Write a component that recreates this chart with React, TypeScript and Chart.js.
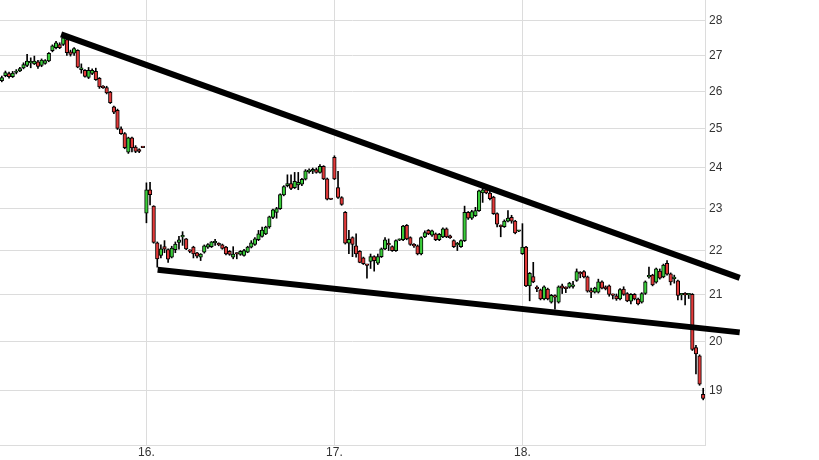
import React, { useEffect, useRef } from 'react';
import { Chart, registerables } from 'chart.js';

Chart.register(...registerables);

// Candle values (one candle per intraday slot, oldest first)
const OPEN = [
  26.29, 26.43, 26.49, 26.40, 26.52, 26.56, 26.65, 26.72, 26.79, 26.76,
  26.82, 26.72, 26.77, 26.84, 27.13, 27.22, 27.31, 27.31, 27.45, 27.10,
  27.06, 27.14, 26.60, 26.58, 26.38, 26.49, 26.55, 26.36, 26.14, 26.10,
  25.98, 25.58, 25.49, 25.00, 24.87, 24.39, 24.76, 24.52, 24.46, 24.53,
  // 16.
  22.88, 23.45, 23.05, 22.18, 21.89, 22.09, 22.02, 21.85, 22.02, 22.19,
  22.32, 22.27, 22.00, 22.08, 21.95, 21.85, 21.96, 22.08, 22.09, 22.18,
  22.15, 22.13, 22.08, 21.98, 21.85, 21.94, 21.91, 21.89, 21.96, 22.08,
  22.14, 22.25, 22.33, 22.39, 22.55, 22.78, 22.90, 22.99, 23.32, 23.55,
  23.60, 23.50, 23.57, 23.59, 23.71, 23.90, 23.91, 23.95, 23.88, 24.03,
  23.72, 23.23,
  // 17.
  24.26, 23.50, 23.26, 22.90, 22.17, 22.30, 22.11, 21.98, 21.83, 21.67,
  21.75, 21.86, 21.71, 21.86, 22.04, 22.15, 22.09, 22.00, 22.24, 22.25,
  22.59, 22.30, 22.12, 22.11, 21.92, 22.32, 22.47, 22.36, 22.39, 22.25,
  22.32, 22.51, 22.34, 22.23, 22.13, 22.09, 22.23, 22.90, 22.76, 22.82,
  22.94, 23.37, 23.45, 23.37, 23.27, 22.87, 22.58, 22.56, 22.69, 22.78,
  22.69, 22.45,
  // 18.
  21.93, 22.08, 21.20, 21.41, 21.16, 21.11, 20.91, 21.13, 20.84, 20.96,
  20.84, 21.20, 21.16, 21.17, 21.19, 21.32, 21.48, 21.52, 21.40, 21.07,
  21.06, 21.06, 21.29, 21.18, 21.20, 21.00, 20.98, 20.91, 21.13, 21.03,
  20.86, 21.01, 20.91, 20.84, 21.03, 21.40, 21.44, 21.28, 21.53, 21.40,
  21.71, 21.47, 21.36, 21.31, 21.00, 21.02, 21.00, 21.01, 19.87, 19.70,
  18.92,
];
const HIGH = [
  26.42, 26.56, 26.53, 26.55, 26.60, 26.66, 26.79, 27.03, 26.93, 26.98,
  26.86, 26.90, 26.88, 27.08, 27.30, 27.40, 27.36, 27.62, 27.55, 27.15,
  27.22, 27.16, 26.76, 26.60, 26.66, 26.62, 26.64, 26.38, 26.16, 26.14,
  26.00, 25.60, 25.52, 25.05, 24.90, 24.78, 24.78, 24.56, 24.48, 24.53,
  // 16.
  23.62, 23.63, 23.06, 22.20, 22.13, 22.23, 22.04, 22.10, 22.20, 22.33,
  22.44, 22.28, 22.02, 22.10, 21.96, 21.93, 22.13, 22.16, 22.21, 22.26,
  22.18, 22.15, 22.10, 22.00, 22.09, 21.95, 22.00, 22.03, 22.10, 22.23,
  22.30, 22.47, 22.55, 22.57, 22.81, 22.98, 23.02, 23.35, 23.55, 23.82,
  23.82, 23.88, 23.88, 23.73, 23.95, 23.97, 23.99, 23.99, 24.08, 24.05,
  23.74, 23.23,
  // 17.
  24.30, 23.91, 23.28, 22.92, 22.47, 22.32, 22.39, 22.00, 21.85, 21.68,
  21.92, 21.88, 21.92, 22.06, 22.30, 22.27, 22.11, 22.25, 22.27, 22.59,
  22.61, 22.32, 22.16, 22.13, 22.32, 22.46, 22.49, 22.48, 22.41, 22.40,
  22.53, 22.53, 22.36, 22.25, 22.19, 22.25, 23.05, 22.92, 22.95, 23.02,
  23.44, 23.52, 23.52, 23.45, 23.29, 22.89, 22.60, 22.72, 22.94, 22.83,
  22.71, 22.47,
  // 18.
  22.63, 22.10, 21.50, 21.73, 21.20, 21.13, 21.20, 21.15, 21.01, 21.00,
  21.20, 21.24, 21.18, 21.28, 21.30, 21.58, 21.52, 21.54, 21.42, 21.15,
  21.17, 21.35, 21.31, 21.20, 21.22, 21.02, 21.02, 21.14, 21.18, 21.05,
  21.03, 21.03, 20.93, 21.05, 21.31, 21.62, 21.46, 21.60, 21.58, 21.69,
  21.77, 21.49, 21.44, 21.33, 21.03, 21.05, 21.03, 21.03, 19.92, 19.72,
  19.04,
];
const LOW = [
  26.26, 26.40, 26.36, 26.38, 26.48, 26.54, 26.62, 26.68, 26.65, 26.74,
  26.63, 26.68, 26.75, 26.82, 27.10, 27.18, 27.19, 27.28, 27.00, 26.98,
  27.00, 26.65, 26.50, 26.39, 26.35, 26.46, 26.30, 26.08, 26.08, 25.93,
  25.67, 25.40, 24.98, 24.85, 24.48, 24.36, 24.40, 24.38, 24.38, 24.51,
  // 16.
  22.65, 23.08, 22.17, 21.62, 21.83, 21.95, 21.73, 21.83, 21.95, 22.03,
  22.12, 22.02, 21.95, 21.83, 21.83, 21.77, 21.94, 22.05, 22.07, 22.12,
  22.11, 22.03, 21.90, 21.89, 21.81, 21.81, 21.89, 21.87, 21.95, 22.06,
  22.12, 22.23, 22.31, 22.37, 22.52, 22.75, 22.76, 22.97, 23.30, 23.52,
  23.45, 23.48, 23.45, 23.55, 23.69, 23.86, 23.85, 23.86, 23.86, 23.70,
  23.20, 23.21,
  // 17.
  23.70, 23.24, 23.07, 22.15, 21.93, 21.86, 21.85, 21.72, 21.68, 21.37,
  21.59, 21.53, 21.68, 21.84, 22.02, 22.00, 21.98, 21.98, 22.23, 22.23,
  22.25, 22.12, 22.07, 21.90, 21.90, 22.30, 22.37, 22.33, 22.23, 22.23,
  22.30, 22.30, 22.28, 22.07, 22.00, 22.07, 22.21, 22.73, 22.73, 22.80,
  22.92, 23.14, 23.35, 23.20, 22.85, 22.55, 22.32, 22.54, 22.67, 22.64,
  22.39, 22.44,
  // 18.
  21.91, 21.18, 20.87, 21.27, 21.07, 20.89, 20.89, 20.89, 20.82, 20.69,
  20.82, 21.03, 21.05, 21.15, 21.15, 21.30, 21.38, 21.38, 21.06, 20.94,
  21.04, 21.04, 21.13, 21.11, 20.97, 20.91, 20.88, 20.89, 20.99, 20.85,
  20.80, 20.89, 20.78, 20.82, 21.01, 21.37, 21.20, 21.26, 21.35, 21.38,
  21.44, 21.22, 21.26, 20.89, 20.89, 20.78, 20.92, 19.81, 19.33, 19.10,
  18.81,
];
const CLOSE = [
  26.38, 26.52, 26.40, 26.50, 26.54, 26.63, 26.74, 26.84, 26.81, 26.84,
  26.69, 26.87, 26.85, 27.06, 27.27, 27.36, 27.22, 27.50, 27.08, 27.03,
  27.19, 26.67, 26.65, 26.41, 26.58, 26.58, 26.32, 26.12, 26.10, 25.96,
  25.69, 25.44, 25.01, 24.87, 24.51, 24.76, 24.50, 24.41, 24.41, 24.51,
  // 16.
  23.45, 23.33, 22.19, 21.81, 22.04, 22.03, 21.80, 22.06, 22.15, 22.25,
  22.34, 22.04, 21.98, 21.92, 21.87, 21.92, 22.11, 22.14, 22.20, 22.20,
  22.13, 22.05, 21.92, 21.91, 21.92, 21.92, 21.98, 22.00, 22.08, 22.18,
  22.27, 22.39, 22.48, 22.55, 22.79, 22.96, 22.99, 23.33, 23.53, 23.60,
  23.48, 23.66, 23.63, 23.71, 23.92, 23.92, 23.96, 23.88, 24.03, 23.72,
  23.22, 23.21,
  // 17.
  23.72, 23.26, 23.09, 22.17, 22.26, 22.14, 21.92, 21.73, 21.70, 21.66,
  21.86, 21.77, 21.86, 22.04, 22.25, 22.13, 22.00, 22.23, 22.26, 22.57,
  22.27, 22.14, 22.11, 21.92, 22.30, 22.42, 22.39, 22.46, 22.25, 22.38,
  22.51, 22.32, 22.30, 22.09, 22.15, 22.23, 22.90, 22.76, 22.92, 22.94,
  23.42, 23.45, 23.37, 23.23, 22.87, 22.62, 22.56, 22.69, 22.76, 22.69,
  22.41, 22.46,
  // 18.
  22.08, 21.20, 21.48, 21.29, 21.14, 20.91, 21.18, 20.91, 20.99, 20.95,
  21.18, 21.15, 21.14, 21.26, 21.21, 21.52, 21.47, 21.40, 21.08, 21.06,
  21.15, 21.29, 21.15, 21.13, 21.01, 20.99, 20.91, 21.12, 21.01, 20.87,
  21.01, 20.91, 20.80, 21.03, 21.29, 21.42, 21.22, 21.58, 21.37, 21.67,
  21.46, 21.29, 21.38, 20.99, 21.01, 21.00, 21.01, 19.83, 19.74, 19.12,
  18.84,
];

// X axis: candle slot of the first candle of each day, and its label
const DAY_TICK_INDEX = [40, 92, 144];
const DAY_LABELS = ['16.', '17.', '18.'];
const X_MIN = -0.5;
const X_MAX = 194.5;

// Y axis (logarithmic)
const PRICE_TICKS = [19, 20, 21, 22, 23, 24, 25, 26, 27, 28];
const Y_MIN = 17.94;
const Y_MAX = 28.615;

// Hand-drawn trend lines (slot, price)
const UPPER_TREND_X = [16.4, 204.1];
const UPPER_TREND_Y = [27.6, 21.38];
const LOWER_TREND_X = [43.1, 204.1];
const LOWER_TREND_Y = [21.56, 20.19];

const UP_COLOR = '#3acd3a';
const DOWN_COLOR = '#e23a3a';
const GRID_COLOR = '#dcdcdc';
const TEXT_COLOR = '#333333';
const FONT = { family: '"Liberation Sans", Arial, sans-serif', size: 12 };

const noPadding = (s: any) => {
  s.paddingTop = 0;
  s.paddingBottom = 0;
  s.paddingLeft = 0;
  s.paddingRight = 0;
};

export default function App() {
  const canvasRef = useRef<HTMLCanvasElement | null>(null);

  useEffect(() => {
    const canvas = canvasRef.current;
    if (!canvas) return;
    const idx = OPEN.map((_, i) => i);
    const bodies = idx.map((i) => ({ x: i, y: [OPEN[i], CLOSE[i]] }));
    const wicks = idx.map((i) => ({ x: i, y: [LOW[i], HIGH[i]] }));
    const bodyColors = idx.map((i) => (CLOSE[i] >= OPEN[i] ? UP_COLOR : DOWN_COLOR));

    const trend = (xs: number[], ys: number[]) => ({
      type: 'line',
      data: xs.map((x, k) => ({ x, y: ys[k] })),
      borderColor: '#000',
      borderWidth: 6,
      pointRadius: 0,
      fill: false,
      tension: 0,
      clip: false,
      borderCapStyle: 'butt',
    });

    const chart = new Chart(canvas, {
      type: 'bar',
      data: {
        datasets: [
          trend(UPPER_TREND_X, UPPER_TREND_Y) as any,
          trend(LOWER_TREND_X, LOWER_TREND_Y) as any,
          {
            type: 'bar',
            data: bodies,
            backgroundColor: bodyColors,
            borderColor: '#000',
            borderWidth: 1,
            borderSkipped: false,
            barThickness: 3.6,
            minBarLength: 1.5,
            grouped: false,
          } as any,
          {
            type: 'bar',
            data: wicks,
            backgroundColor: '#000',
            borderWidth: 0,
            barThickness: 1,
            grouped: false,
          } as any,
        ],
      },
      options: {
        responsive: false,
        animation: false,
        events: [],
        layout: { padding: 0 },
        plugins: { legend: { display: false }, tooltip: { enabled: false } },
        scales: {
          x: {
            type: 'linear',
            min: X_MIN,
            max: X_MAX,
            offset: false,
            grid: { color: GRID_COLOR, drawTicks: false, offset: false },
            border: { color: GRID_COLOR },
            ticks: {
              autoSkip: false,
              maxRotation: 0,
              padding: 0,
              color: TEXT_COLOR,
              font: FONT,
              callback: (_v: any, i: number) => DAY_LABELS[i] ?? '',
            },
            afterBuildTicks: (s: any) => {
              s.ticks = DAY_TICK_INDEX.map((v) => ({ value: v }));
            },
            afterFit: (s: any) => {
              s.height = 15;
              noPadding(s);
            },
          },
          y: {
            type: 'logarithmic',
            position: 'right',
            min: Y_MIN,
            max: Y_MAX,
            bounds: 'data',
            grid: { color: GRID_COLOR, drawTicks: false },
            border: { color: GRID_COLOR },
            ticks: {
              padding: 4,
              color: TEXT_COLOR,
              font: FONT,
              callback: (v: any) => String(v),
            },
            afterBuildTicks: (s: any) => {
              s.ticks = PRICE_TICKS.map((v) => ({ value: v }));
            },
            afterFit: (s: any) => {
              s.width = 114;
              noPadding(s);
            },
          },
        },
      } as any,
    });
    return () => chart.destroy();
  }, []);

  return (
    <div style={{ position: 'absolute', left: 0, top: 0, width: 819, height: 460, background: '#fff' }}>
      <canvas ref={canvasRef} width={819} height={460} style={{ display: 'block' }} />
    </div>
  );
}
